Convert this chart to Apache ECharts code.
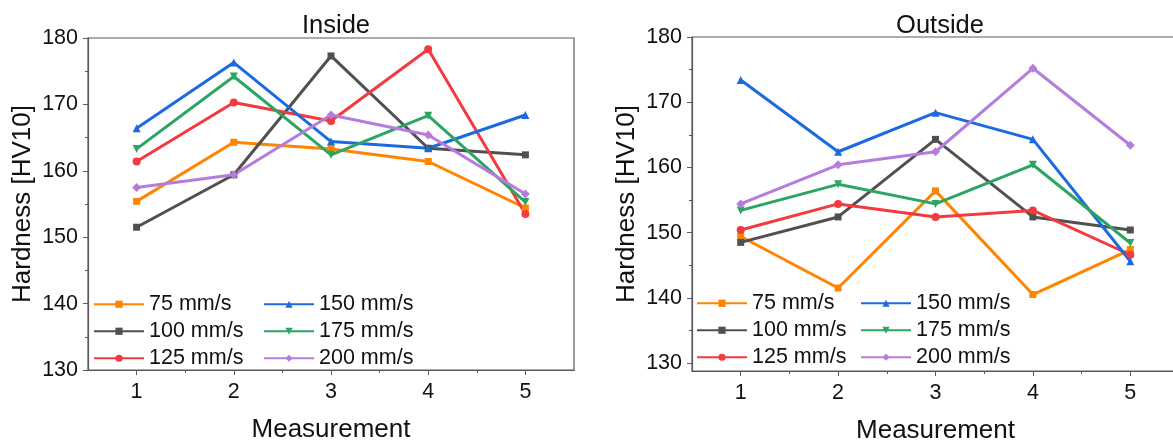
<!DOCTYPE html>
<html>
<head>
<meta charset="utf-8">
<script src="https://cdn.jsdelivr.net/npm/echarts@6/dist/echarts.min.js"></script>
<style>
html,body{margin:0;padding:0;background:#fff;}
#chart{width:1173px;height:442px;}
</style>
</head>
<body>
<div id="chart"></div>
<script>
// ---- data ----
var measurement = [1, 2, 3, 4, 5];
var seriesNames = ['75 mm/s', '100 mm/s', '125 mm/s', '150 mm/s', '175 mm/s', '200 mm/s'];
var inside75  = [155.4, 164.3, 163.3, 161.4, 154.4];
var inside100 = [151.5, 159.4, 177.3, 163.4, 162.4];
var inside125 = [161.4, 170.3, 167.5, 178.3, 153.5];
var inside150 = [166.4, 176.3, 164.4, 163.4, 168.4];
var inside175 = [163.3, 174.2, 162.4, 168.3, 155.3];
var inside200 = [157.5, 159.4, 168.4, 165.4, 156.5];
var outside75  = [149.4, 141.5, 156.4, 140.5, 147.4];
var outside100 = [148.5, 152.4, 164.3, 152.4, 150.4];
var outside125 = [150.4, 154.4, 152.4, 153.4, 146.6];
var outside150 = [173.4, 162.4, 168.4, 164.3, 145.6];
var outside175 = [153.4, 157.4, 154.4, 160.4, 148.4];
var outside200 = [154.4, 160.4, 162.4, 175.2, 163.4];
var yTicks = [130, 140, 150, 160, 170, 180];
var yMinorTicks = [135, 145, 155, 165, 175];
var xMinorTicks = [1.5, 2.5, 3.5, 4.5];

var colors  = ['#FF8500', '#505050', '#F4393F', '#1C6AE0', '#2CA462', '#B57CDE'];
var symbols = ['rect', 'rect', 'circle', 'triangle', 'path://M0,0 L10,0 L5,8.66 Z', 'diamond'];
var symSizes = [7, 7, 8, 8, 8, 9];
var insideData  = [inside75, inside100, inside125, inside150, inside175, inside200];
var outsideData = [outside75, outside100, outside125, outside150, outside175, outside200];

var FONT = 'Arial, "Liberation Sans", sans-serif';
var AX = '#5a5a5a';

function pairs(vals){ return measurement.map(function(m, i){ return [m, vals[i]]; }); }

function xAxes(gi){
  return [{
    type:'value', gridIndex:gi, min:0.5, max:5.5, position:'bottom',
    name:'Measurement', nameLocation:'middle', nameGap:47,
    nameTextStyle:{fontFamily:FONT, fontSize:26, color:'#111'},
    axisLine:{show:true, lineStyle:{color:AX, width:1.2}},
    axisTick:{show:true, inside:false, length:5, customValues:measurement, lineStyle:{color:AX}},
    axisLabel:{show:true, customValues:measurement, margin:11, fontFamily:FONT, fontSize:21.5, color:'#111'},
    splitLine:{show:false}
  },{
    type:'value', gridIndex:gi, min:0.5, max:5.5, position:'bottom',
    axisLine:{show:false},
    axisTick:{show:true, inside:false, length:3, customValues:xMinorTicks, lineStyle:{color:AX}},
    axisLabel:{show:false}, splitLine:{show:false}
  }];
}
function yAxes(gi, ymin){
  return [{
    type:'value', gridIndex:gi, min:ymin, max:180, position:'left',
    name:'Hardness [HV10]', nameLocation:'middle', nameGap:52, nameRotate:90,
    nameTextStyle:{fontFamily:FONT, fontSize:26, color:'#111'},
    axisLine:{show:true, lineStyle:{color:AX, width:1.2}},
    axisTick:{show:true, inside:false, length:5, customValues:yTicks, lineStyle:{color:AX}},
    axisLabel:{show:true, customValues:yTicks, margin:10, fontFamily:FONT, fontSize:21.5, color:'#111'},
    splitLine:{show:false}
  },{
    type:'value', gridIndex:gi, min:ymin, max:180, position:'left',
    axisLine:{show:false},
    axisTick:{show:true, inside:false, length:3, customValues:yMinorTicks, lineStyle:{color:AX}},
    axisLabel:{show:false}, splitLine:{show:false}
  }];
}

var series = [];
[insideData, outsideData].forEach(function(set, gi){
  set.forEach(function(vals, k){
    series.push({
      type:'line', name:seriesNames[k], xAxisIndex:gi*2, yAxisIndex:gi*2,
      data:pairs(vals), symbol:symbols[k], symbolSize:symSizes[k],
      showAllSymbol:true, animation:false,
      lineStyle:{color:colors[k], width:3},
      itemStyle:{color:colors[k], borderWidth:0},
      emphasis:{disabled:true}
    });
  });
});

function legend(left, top, names){
  return {
    left:left, top:top, orient:'vertical', data:names,
    itemWidth:50, itemHeight:9, itemGap:4.5, padding:0,
    textStyle:{fontFamily:FONT, fontSize:21.5, color:'#111', lineHeight:22.5},
    selectedMode:false
  };
}

var option = {
  backgroundColor:'#fff',
  animation:false,
  color:colors,
  title:[
    {text:'Inside', left:331, top:8, textAlign:'center', textStyle:{fontFamily:FONT, fontSize:25.5, fontWeight:'normal', color:'#111'}},
    {text:'Outside', left:935, top:8, textAlign:'center', textStyle:{fontFamily:FONT, fontSize:25.5, fontWeight:'normal', color:'#111'}}
  ],
  grid:[
    {left:88, top:38, width:486, height:332, show:true, borderColor:AX, borderWidth:1.2, backgroundColor:'transparent', containLabel:false, outerBoundsMode:'none'},
    {left:692, top:37, width:487, height:334, show:true, borderColor:AX, borderWidth:1.2, backgroundColor:'transparent', containLabel:false, outerBoundsMode:'none'}
  ],
  legend:[
    legend(93, 293, seriesNames.slice(0,3)),
    legend(263, 293, seriesNames.slice(3,6)),
    legend(696, 292, seriesNames.slice(0,3)),
    legend(860, 292, seriesNames.slice(3,6))
  ],
  xAxis: xAxes(0).concat(xAxes(1)),
  yAxis: yAxes(0, 130).concat(yAxes(1, 128.77)),
  series: series
};

var chart = echarts.init(document.getElementById('chart'), null, {renderer:'canvas'});
chart.setOption(option);
</script>
</body>
</html>
